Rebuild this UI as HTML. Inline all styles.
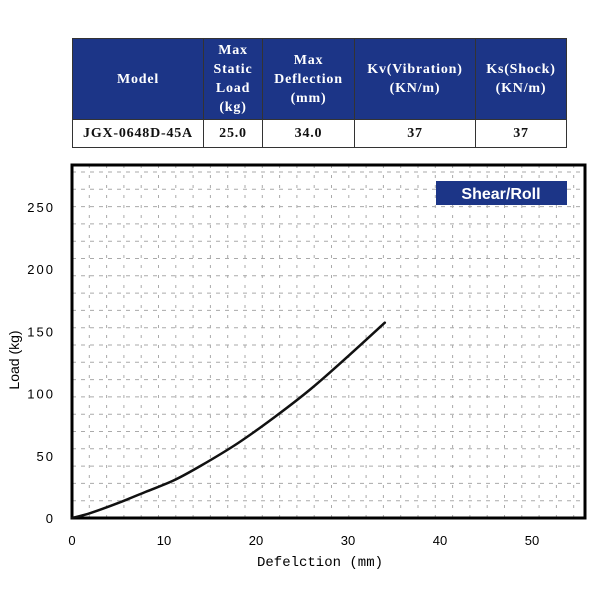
<!DOCTYPE html>
<html><head><meta charset="utf-8"><style>
body{margin:0;background:#fff;width:600px;height:600px;overflow:hidden;font-family:"Liberation Serif",serif}
table{position:absolute;left:72px;top:38px;border-collapse:collapse;width:495px}
td{border:1.5px solid #333;text-align:center;font-weight:bold;font-size:14px;letter-spacing:0.8px;padding:0}
tr.h td{background:#1c3587;color:#fff;height:80px;line-height:19px}
tr.d td{height:27px;color:#111}
</style></head><body>
<table>
<tr class="h"><td style="width:130px">Model</td><td style="width:58px">Max<br>Static<br>Load<br>(kg)</td><td style="width:91px">Max<br>Deflection<br>(mm)</td><td style="width:120px">Kv(Vibration)<br>(KN/m)</td><td>Ks(Shock)<br>(KN/m)</td></tr>
<tr class="d"><td>JGX-0648D-45A</td><td>25.0</td><td>34.0</td><td>37</td><td>37</td></tr>
</table>
<svg id="c" width="600" height="600" style="position:absolute;left:0;top:0"></svg>
<script>
const xs=[0,2,5,8,11,14,18,22,26,30,34];
const loads=[0,4,12,21,30,42,60,81,104,130,157];
const xTicks=[0,10,20,30,40,50];
const yTicks=[0,50,100,150,200,250];
const svg=document.getElementById('c');const NS='http://www.w3.org/2000/svg';
const L=72,R=585,T=165,B=518;
const X=v=>L+v*9.2, Y=v=>B-v*1.244;
function mk(t,a,p){const e=document.createElementNS(NS,t);for(const k in a)e.setAttribute(k,a[k]);(p||svg).appendChild(e);return e;}
const g=mk('g',{});


for(let y=B-17.3;y>T+2;y-=17.3)mk('line',{x1:L,x2:R,y1:y,y2:y,stroke:'#aaa','stroke-width':1,'stroke-dasharray':'4,5'},g);
for(let x=L+17.3;x<R-2;x+=17.3)mk('line',{x1:x,x2:x,y1:T,y2:B,stroke:'#aaa','stroke-width':1,'stroke-dasharray':'3,7'},g);
const fr=mk('rect',{x:L,y:T,width:R-L,height:B-T,fill:'none',stroke:'#000','stroke-width':3});


xTicks.forEach(v=>{const t=mk('text',{x:X(v),y:545,'text-anchor':'middle','font-size':13,'font-family':'Liberation Sans, sans-serif'});t.textContent=v;

});
yTicks.forEach(v=>{const t=mk('text',{x:55,y:Y(v)+5,'text-anchor':'end','font-size':13,'letter-spacing':2,'font-family':'Liberation Sans, sans-serif'});t.textContent=v;

});
const pts=xs.map((v,i)=>[X(v),Y(loads[i])]);
let d='M'+pts[0][0]+','+pts[0][1];
for(let i=0;i<pts.length-1;i++){const p0=pts[Math.max(0,i-1)],p1=pts[i],p2=pts[i+1],p3=pts[Math.min(pts.length-1,i+2)];
d+='C'+(p1[0]+(p2[0]-p0[0])/6)+','+(p1[1]+(p2[1]-p0[1])/6)+' '+(p2[0]-(p3[0]-p1[0])/6)+','+(p2[1]-(p3[1]-p1[1])/6)+' '+p2[0]+','+p2[1];}
const p=mk('path',{d:d,fill:'none',stroke:'#111','stroke-width':2.5,'stroke-linecap':'round'});


const lb=mk('rect',{x:436,y:181,width:131,height:24,fill:'#1c3587'});


const lt=mk('text',{x:501,y:199,'text-anchor':'middle','font-size':16,'font-weight':'bold',fill:'#fff','font-family':'Liberation Sans, sans-serif'});lt.textContent='Shear/Roll';


const xt=mk('text',{x:320,y:566,'text-anchor':'middle','font-size':14,'font-family':'Liberation Mono, monospace'});xt.textContent='Defelction (mm)';


const yt=mk('text',{x:0,y:0,transform:'translate(19,360) rotate(-90)','text-anchor':'middle','font-size':14,'font-family':'Liberation Sans, sans-serif'});yt.textContent='Load  (kg)';


</script>
</body></html>
